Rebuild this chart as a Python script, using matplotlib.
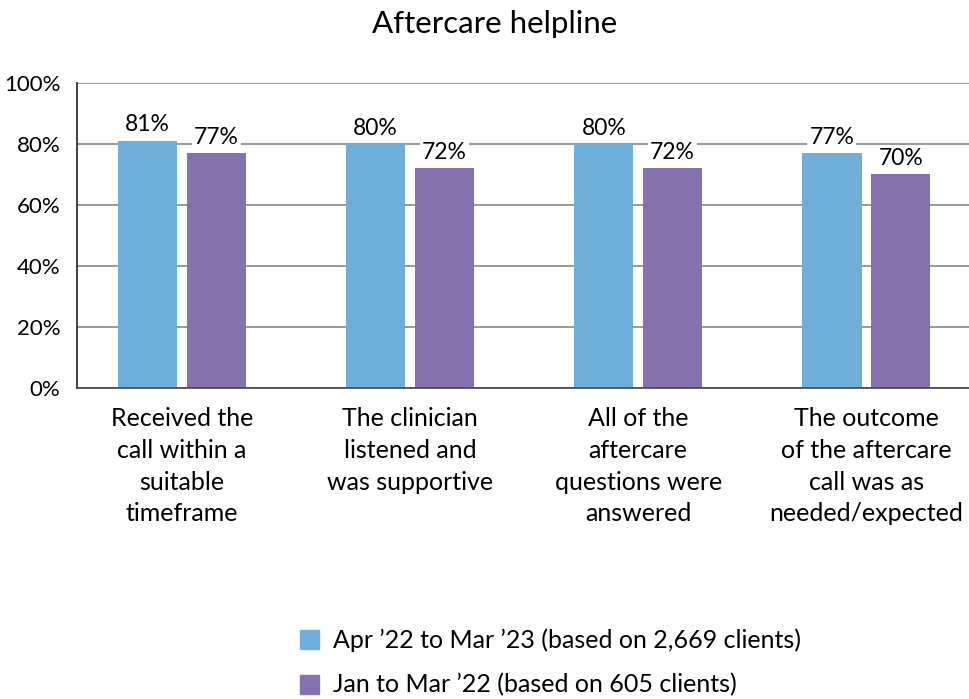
import numpy as np
import matplotlib
matplotlib.use('Agg')
import matplotlib.pyplot as plt

# Data
categories = [
    'Received the\ncall within a\nsuitable\ntimeframe',
    'The clinician\nlistened and\nwas supportive',
    'All of the\naftercare\nquestions were\nanswered',
    'The outcome\nof the aftercare\ncall was as\nneeded/expected',
]
apr22_mar23 = [81, 80, 80, 77]
jan_mar22 = [77, 72, 72, 70]
series_names = [
    'Apr \u201922 to Mar \u201923 (based on 2,669 clients)',
    'Jan to Mar \u201922 (based on 605 clients)',
]
yticks = [0, 20, 40, 60, 80, 100]

blue = '#6FAED9'
purple = '#8670AE'

plt.rcParams['font.family'] = ['Lato', 'DejaVu Sans']

fig = plt.figure(figsize=(9.69, 6.99), dpi=100)
ax = fig.add_axes([77 / 969, 1 - 388 / 699, 1 - 77 / 969, (388 - 83) / 699])

x = np.arange(len(categories))
w = 0.26
off = 0.151
b1 = ax.bar(x - off, apr22_mar23, w, color=blue, zorder=2)
b2 = ax.bar(x + off, jan_mar22, w, color=purple, zorder=2)

for bars, vals in [(b1, apr22_mar23), (b2, jan_mar22)]:
    for rect, v in zip(bars, vals):
        ax.text(rect.get_x() + rect.get_width() / 2, v + 1.8, f'{v}%',
                ha='center', va='bottom', fontsize=16.5, zorder=3,
                bbox=dict(facecolor='white', edgecolor='none', pad=1.5))

ax.set_xlim(-0.46, 3.45)
ax.set_ylim(0, 100)
ax.set_yticks(yticks)
ax.set_yticklabels([f'{t}%' for t in yticks], fontsize=16)
ax.yaxis.grid(True, color='#888888', linewidth=1.2, zorder=1)
ax.set_axisbelow(True)
ax.tick_params(axis='y', length=0, pad=12)
ax.tick_params(axis='x', length=0, pad=14)
ax.set_xticks(x)
ax.set_xticklabels(categories, fontsize=18, linespacing=1.45)

for s in ['top', 'right']:
    ax.spines[s].set_visible(False)
ax.spines['left'].set_color('#222222')
ax.spines['bottom'].set_color('#444444')
ax.spines['left'].set_linewidth(1.2)
ax.spines['bottom'].set_linewidth(1.2)

fig.text(0.51, 0.965, 'Aftercare helpline', ha='center', va='center', fontsize=22.5)

# Legend drawn manually as squares + text
for i, (name, col) in enumerate(zip(series_names, [blue, purple])):
    yy = 1 - (640 + i * 45) / 699
    fig.patches.append(plt.Rectangle((300 / 969, yy - 9 / 699), 19 / 969, 19 / 699,
                                     transform=fig.transFigure, color=col))
    fig.text(333 / 969, yy, name, ha='left', va='center', fontsize=18)

fig.savefig('out.png', dpi=100)
